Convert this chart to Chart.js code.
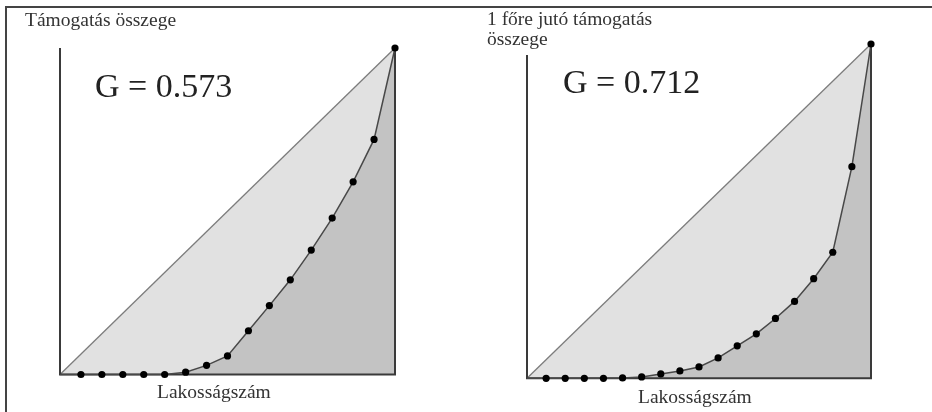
<!DOCTYPE html>
<html>
<head>
<meta charset="utf-8">
<script src="https://cdn.jsdelivr.net/npm/chart.js@4.4.1/dist/chart.umd.min.js"></script>
<style>
  body { margin: 0; background: #fff; width: 932px; height: 412px; overflow: hidden; position: relative; }
  canvas { position: absolute; top: 0; }
  #frame { position: absolute; left: 5px; top: 6px; width: 940px; height: 420px;
           border-top: 2px solid #444; border-left: 2px solid #444; }
  .lbl { position: absolute; font-family: "Liberation Serif", serif; color: #333; white-space: nowrap; font-size: 19.5px; }
  .g { font-size: 34px; color: #222; }
</style>
</head>
<body>
<div id="frame"></div>
<canvas id="leftChart" width="466" height="412" style="left:0"></canvas>
<canvas id="rightChart" width="466" height="412" style="left:466px"></canvas>

<div class="lbl" style="left:25px; top:9px">Támogatás összege</div>
<div class="lbl g" style="left:95px; top:67px">G = 0.573</div>
<div class="lbl" style="left:157px; top:380.5px">Lakosságszám</div>

<div class="lbl" style="left:487px; top:8.5px; line-height:20px">1 főre jutó támogatás<br>összege</div>
<div class="lbl g" style="left:563px; top:63px">G = 0.712</div>
<div class="lbl" style="left:638px; top:385.5px">Lakosságszám</div>

<script>
// cumulative population share steps (x) and cumulative support share (y)
const leftPop = [0, 1, 2, 3, 4, 5, 6, 7, 8, 9, 10, 11, 12, 13, 14, 15, 16];
const leftSupport = [0, 0, 0, 0, 0, 0, 0.007, 0.028, 0.057, 0.134, 0.211, 0.290, 0.381, 0.479, 0.590, 0.720, 1];
const leftAxisTop = 1;

const rightPop = [0, 1, 2, 3, 4, 5, 6, 7, 8, 9, 10, 11, 12, 13, 14, 15, 16, 17, 18];
const rightSupport = [0, 0, 0, 0, 0, 0.001, 0.004, 0.013, 0.022, 0.034, 0.061, 0.097, 0.133, 0.179, 0.230, 0.298, 0.377, 0.633, 1];
const rightAxisTop = 0.967;

function lorenzChart(id, pop, support, axisTop, pad) {
  const n = pop[pop.length - 1];
  const curve = pop.map((x, i) => ({x: x, y: support[i]}));
  return new Chart(document.getElementById(id), {
    type: 'scatter',
    data: {
      datasets: [
        {
          // Lorenz curve
          data: curve,
          showLine: true,
          borderColor: '#484848',
          borderWidth: 1.5,
          backgroundColor: '#000',
          pointRadius: ctx => ctx.dataIndex === 0 ? 0 : 3.6,
          pointBorderWidth: 0,
          fill: {target: 'origin', above: '#c3c3c3'},
          clip: false,
          order: 0
        },
        {
          // frame: left axis, bottom axis, right edge
          data: [{x: 0, y: axisTop}, {x: 0, y: 0}, {x: n, y: 0}, {x: n, y: 1}],
          showLine: true,
          borderColor: '#3a3a3a',
          borderWidth: 2,
          pointRadius: 0,
          fill: false,
          clip: false,
          order: 1
        },
        {
          // line of equality
          data: [{x: 0, y: 0}, {x: n, y: 1}],
          showLine: true,
          borderColor: '#7c7c7c',
          borderWidth: 1.3,
          pointRadius: 0,
          fill: {target: 'origin', above: '#e1e1e1'},
          clip: false,
          order: 2
        }
      ]
    },
    options: {
      responsive: false,
      animation: false,
      layout: {padding: pad},
      scales: {
        x: {type: 'linear', display: false, min: 0, max: n},
        y: {display: false, min: 0, max: 1}
      },
      plugins: {
        legend: {display: false},
        tooltip: {enabled: false},
        filler: {drawTime: 'beforeDatasetsDraw'}
      },
      elements: {line: {tension: 0}}
    }
  });
}

document.addEventListener('DOMContentLoaded', () => {
  lorenzChart('leftChart', leftPop, leftSupport, leftAxisTop, {left: 60, right: 71, top: 48, bottom: 37.5});
  lorenzChart('rightChart', rightPop, rightSupport, rightAxisTop, {left: 61, right: 61, top: 44, bottom: 33.7});
});
</script>
</body>
</html>
